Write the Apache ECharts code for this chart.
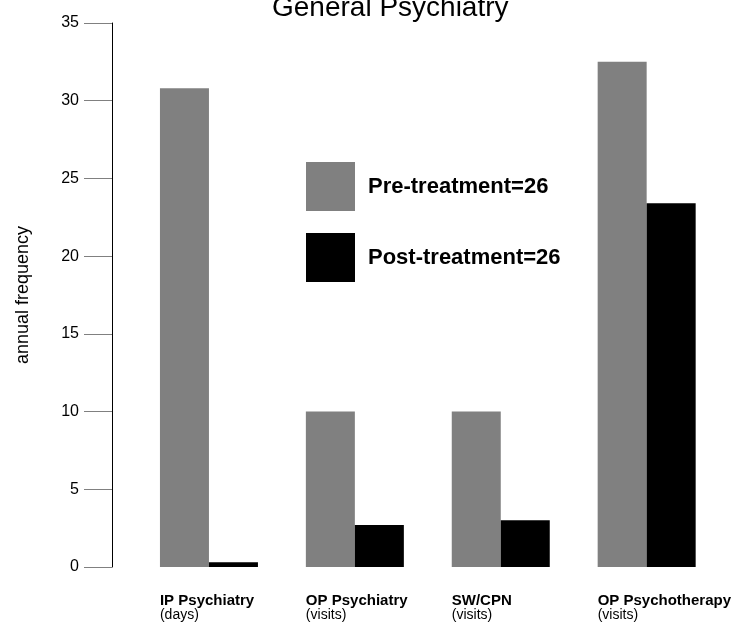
<!DOCTYPE html>
<html>
<head>
<meta charset="utf-8">
<script src="https://cdn.jsdelivr.net/npm/echarts@6/dist/echarts.min.js"></script>
<style>
html,body{margin:0;padding:0;background:#fff;}
#chart{width:734px;height:624px;}
</style>
</head>
<body>
<div id="chart"></div>
<script>
const categories = ['IP Psychiatry', 'OP Psychiatry', 'SW/CPN', 'OP Psychotherapy'];
const units = ['(days)', '(visits)', '(visits)', '(visits)'];
const preTreatment = [30.8, 10.0, 10.0, 32.5];
const postTreatment = [0.3, 2.7, 3.0, 23.4];
const seriesNames = ['Pre-treatment=26', 'Post-treatment=26'];
const yTicks = [0, 5, 10, 15, 20, 25, 30, 35];

const FONT = 'Liberation Sans, Arial, Helvetica, sans-serif';
const chart = echarts.init(document.getElementById('chart'), null, {renderer: 'canvas'});
chart.setOption({
  animation: false,
  backgroundColor: '#fff',
  title: {
    text: 'General Psychiatry',
    left: 267,
    top: -11,
    textStyle: {fontFamily: FONT, fontSize: 28, fontWeight: 'normal', color: '#000'}
  },
  legend: {
    orient: 'vertical',
    left: 306,
    top: 162,
    padding: 0,
    itemWidth: 49,
    itemHeight: 49,
    itemGap: 22,
    icon: 'rect',
    selectedMode: false,
    textStyle: {fontFamily: FONT, fontSize: 22, fontWeight: 'bold', color: '#000', padding: [0, 0, 0, 8]},
    data: seriesNames
  },
  grid: {left: 136, right: 14, top: 23, bottom: 57, containLabel: false},
  xAxis: {
    type: 'category',
    data: categories,
    axisLine: {show: false},
    axisTick: {show: false},
    splitLine: {show: false},
    axisLabel: {
      interval: 0,
      margin: 27,
      width: 98,
      overflow: 'none',
      align: 'center',
      formatter: function (v, i) { return '{a|' + v + '}\n{b|' + units[i] + '}'; },
      rich: {
        a: {fontFamily: FONT, fontSize: 15, fontWeight: 'bold', color: '#000', align: 'left', lineHeight: 14},
        b: {fontFamily: FONT, fontSize: 14, fontWeight: 'normal', color: '#000', align: 'left', lineHeight: 14}
      }
    }
  },
  yAxis: {
    type: 'value',
    min: 0,
    max: 35,
    interval: 5,
    offset: 24,
    name: 'annual frequency',
    nameLocation: 'middle',
    nameGap: 80,
    nameTextStyle: {fontFamily: FONT, fontSize: 18, color: '#000'},
    axisLine: {show: true, lineStyle: {color: '#000', width: 1}},
    axisTick: {show: true, length: 28, lineStyle: {color: '#808080', width: 1}},
    splitLine: {show: false},
    axisLabel: {
      margin: 33,
      fontFamily: FONT, fontSize: 16, color: '#000',
      formatter: function (v) { return yTicks.indexOf(v) >= 0 ? String(v) : ''; }
    }
  },
  series: [
    {name: seriesNames[0], type: 'bar', data: preTreatment, barWidth: 49, barGap: '0%', itemStyle: {color: '#808080'}},
    {name: seriesNames[1], type: 'bar', data: postTreatment, barWidth: 49, barGap: '0%', itemStyle: {color: '#000000'}}
  ]
});
</script>
</body>
</html>
